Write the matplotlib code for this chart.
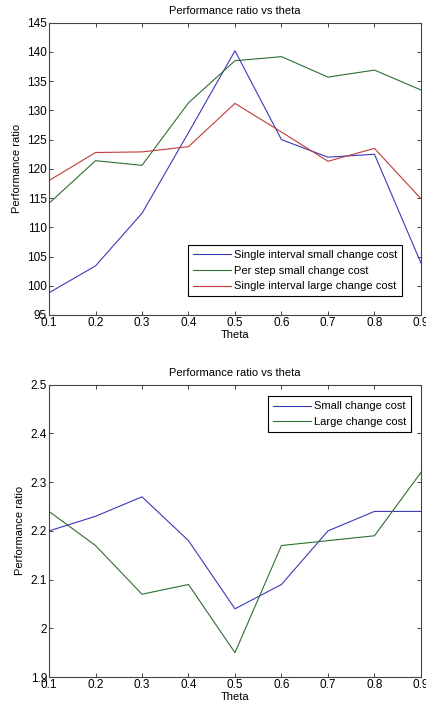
import matplotlib
matplotlib.use("Agg")
import matplotlib.pyplot as plt
import numpy as np

theta = [0.1, 0.2, 0.3, 0.4, 0.5, 0.6, 0.7, 0.8, 0.9]

# top panel
single_small = [98.8, 103.4, 112.4, 126.2, 140.2, 125.0, 122.0, 122.5, 103.9]
perstep_small = [114.1, 121.4, 120.6, 131.3, 138.5, 139.2, 135.7, 136.9, 133.5]
single_large = [118.0, 122.8, 122.9, 123.8, 131.2, 126.3, 121.3, 123.5, 114.9]

# bottom panel
small_cost = [2.20, 2.23, 2.27, 2.18, 2.04, 2.09, 2.20, 2.24, 2.24]
large_cost = [2.24, 2.17, 2.07, 2.09, 1.95, 2.17, 2.18, 2.19, 2.32]

BLUE = "#3a3ab8"
GREEN = "#2f6e2f"
RED = "#c03a3a"
EDGE = "#444444"

plt.rcParams.update({
    "font.family": ["Liberation Sans", "DejaVu Sans"],
    "font.size": 8,
    "axes.linewidth": 0.8,
    "axes.edgecolor": EDGE,
})

fig = plt.figure(figsize=(4.27, 7.11), dpi=100)
ax1 = fig.add_axes([0.1148, 0.557, 0.871, 0.411])
ax2 = fig.add_axes([0.1148, 0.0478, 0.871, 0.411])

def style(ax, yticks, ylim):
    ax.set_xlim(0.1, 0.9)
    ax.set_ylim(*ylim)
    ax.set_xticks(theta)
    ax.set_xticklabels([("%g" % t) for t in theta])
    ax.set_yticks(yticks)
    ax.set_yticklabels([("%g" % v) for v in yticks])
    ax.tick_params(direction="in", length=3, width=0.7, color=EDGE,
                   top=True, right=True, labelsize=8.5, pad=1.5)
    ax.set_xlabel("Theta", fontsize=8, labelpad=1)
    ax.set_ylabel("Performance ratio", fontsize=8, labelpad=4)
    ax.set_title("Performance ratio vs theta", fontsize=8, pad=6)

ax1.plot(theta, single_small, color=BLUE, lw=0.8, label="Single interval small change cost")
ax1.plot(theta, perstep_small, color=GREEN, lw=0.8, label="Per step small change cost")
ax1.plot(theta, single_large, color=RED, lw=0.8, label="Single interval large change cost")
style(ax1, list(range(95, 146, 5)), (95, 145))
leg = ax1.legend(loc="lower right", bbox_to_anchor=(0.965, 0.0445), fontsize=8,
                 handlelength=3.4, handletextpad=0.3, borderpad=0.45,
                 labelspacing=0.5, fancybox=False, framealpha=1)
leg.get_frame().set_edgecolor("black")
leg.get_frame().set_linewidth(0.8)

ax2.plot(theta, small_cost, color=BLUE, lw=0.8, label="Small change cost")
ax2.plot(theta, large_cost, color=GREEN, lw=0.8, label="Large change cost")
style(ax2, [1.9, 2.0, 2.1, 2.2, 2.3, 2.4, 2.5], (1.9, 2.5))
leg2 = ax2.legend(loc="upper right", bbox_to_anchor=(0.989, 0.979), fontsize=8,
                  handlelength=3.4, handletextpad=0.3, borderpad=0.45,
                  labelspacing=0.5, fancybox=False, framealpha=1)
leg2.get_frame().set_edgecolor("black")
leg2.get_frame().set_linewidth(0.8)

fig.savefig("out.png", dpi=100)
